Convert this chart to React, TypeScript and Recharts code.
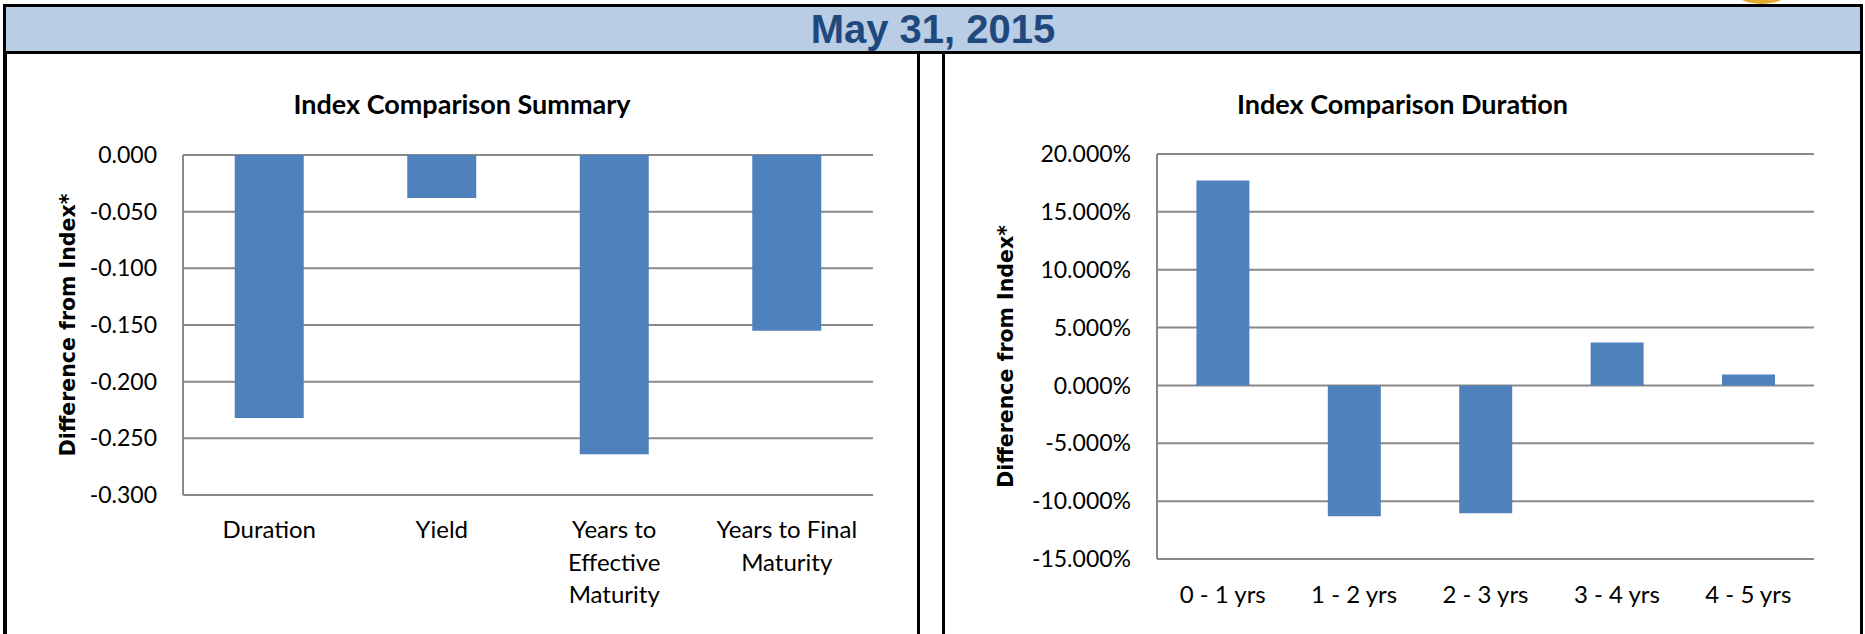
import { BarChart, Bar, XAxis, YAxis, CartesianGrid } from 'recharts';

const reportDate = 'May 31, 2015';
const axisTitle = 'Difference from Index*';

const summaryTitle = 'Index Comparison Summary';
const summaryCategories = ['Duration', 'Yield', 'Years to Effective Maturity', 'Years to Final Maturity'];
const summaryTickLines = [['Duration'], ['Yield'], ['Years to', 'Effective', 'Maturity'], ['Years to Final', 'Maturity']];
const summaryValues = [-0.232, -0.038, -0.264, -0.155];
const summaryTicks = [0, -0.05, -0.1, -0.15, -0.2, -0.25, -0.3];

const durationTitle = 'Index Comparison Duration';
const durationCategories = ['0 - 1 yrs', '1 - 2 yrs', '2 - 3 yrs', '3 - 4 yrs', '4 - 5 yrs'];
const durationValues = [17.7, -11.3, -11.05, 3.7, 0.95];
const durationTicks = [20, 15, 10, 5, 0, -5, -10, -15];

const summaryData = summaryCategories.map((name, i) => ({ name, value: summaryValues[i] }));
const durationData = durationCategories.map((name, i) => ({ name, value: durationValues[i] }));

const BAR = '#4f81bd';
const GRID = '#898989';
const TICK_FONT = 'Lato, "Open Sans", sans-serif';

function CategoryTick({ x, y, payload, categories, lines, offset }: any) {
  const idx = categories.indexOf(payload.value);
  const rows: string[] = idx >= 0 && lines ? lines[idx] : [payload.value];
  return (
    <text x={x} y={y + offset} textAnchor="middle" fontFamily={TICK_FONT} fontSize={24} fill="#000">
      {rows.map((r, i) => (
        <tspan key={i} x={x} dy={i === 0 ? 0 : 32.5}>
          {r}
        </tspan>
      ))}
    </text>
  );
}

const yLabelStyle = {
  textAnchor: 'middle' as const,
  fontFamily: '"DejaVu Sans", Verdana, sans-serif',
  fontWeight: 700,
  fontSize: 20.5,
  fill: '#000',
};

function PanelTitle({ left, width, text }: { left: number; width: number; text: string }) {
  return (
    <div
      style={{
        position: 'absolute',
        left,
        width,
        top: 90,
        height: 27,
        lineHeight: '27px',
        textAlign: 'center',
        fontFamily: TICK_FONT,
        fontWeight: 700,
        fontSize: 27,
        color: '#000',
      }}
    >
      {text}
    </div>
  );
}

function SummaryChart() {
  return (
    <div style={{ position: 'absolute', left: 7, top: 54 }}>
      <BarChart
        width={910}
        height={580}
        data={summaryData}
        margin={{ top: 101, right: 44, bottom: 19, left: 76 }}
        barCategoryGap="30%"
      >
        <CartesianGrid horizontal vertical={false} stroke={GRID} strokeWidth={2} />
        <XAxis
          dataKey="name"
          axisLine={false}
          tickLine={false}
          tickSize={0}
          tickMargin={0}
          height={120}
          interval={0}
          tick={(p: any) => (
            <CategoryTick {...p} categories={summaryCategories} lines={summaryTickLines} offset={43} />
          )}
        />
        <YAxis
          type="number"
          domain={[-0.3, 0]}
          ticks={summaryTicks}
          width={100}
          axisLine={{ stroke: GRID, strokeWidth: 2 }}
          tickLine={false}
          tickSize={0}
          tickMargin={26}
          interval={0}
          tickFormatter={(v: number) => v.toFixed(3)}
          tick={{ fontFamily: TICK_FONT, fontSize: 23, fill: '#000' }}
          label={{ value: axisTitle, angle: -90, position: 'insideLeft', offset: -15, style: yLabelStyle }}
        />
        <Bar dataKey="value" fill={BAR} isAnimationActive={false} />
      </BarChart>
    </div>
  );
}

function DurationChart() {
  return (
    <div style={{ position: 'absolute', left: 945, top: 54 }}>
      <BarChart
        width={915}
        height={580}
        data={durationData}
        margin={{ top: 100, right: 46, bottom: 15, left: 92 }}
        barCategoryGap="30%"
      >
        <CartesianGrid horizontal vertical={false} stroke={GRID} strokeWidth={2} />
        <XAxis
          dataKey="name"
          axisLine={false}
          tickLine={false}
          tickSize={0}
          tickMargin={0}
          height={60}
          interval={0}
          tick={(p: any) => <CategoryTick {...p} categories={durationCategories} lines={null} offset={44} />}
        />
        <YAxis
          type="number"
          domain={[-15, 20]}
          ticks={durationTicks}
          width={120}
          axisLine={{ stroke: GRID, strokeWidth: 2 }}
          tickLine={false}
          tickSize={0}
          tickMargin={26}
          interval={0}
          tickFormatter={(v: number) => `${v.toFixed(3)}%`}
          tick={{ fontFamily: TICK_FONT, fontSize: 23, fill: '#000' }}
          label={{ value: axisTitle, angle: -90, position: 'insideLeft', offset: -31, style: yLabelStyle }}
        />
        <Bar dataKey="value" fill={BAR} isAnimationActive={false} />
      </BarChart>
    </div>
  );
}

export default function App() {
  const line = { position: 'absolute' as const, background: '#000' };
  return (
    <div style={{ position: 'absolute', left: 0, top: 0, width: 1865, height: 634, background: '#fff', overflow: 'hidden' }}>
      {/* logo peeking above the header */}
      <div
        style={{
          position: 'absolute',
          left: 1733,
          top: -26,
          width: 57,
          height: 30,
          borderRadius: '50%',
          background: '#e4ac2c',
        }}
      />
      <div
        style={{
          position: 'absolute',
          left: 3,
          top: 4,
          width: 1860,
          height: 50,
          boxSizing: 'border-box',
          border: '3px solid #000',
          background: '#b9cde5',
        }}
      />
      <div
        style={{
          position: 'absolute',
          left: 3,
          width: 1860,
          top: 9,
          height: 40,
          lineHeight: '40px',
          textAlign: 'center',
          fontFamily: '"Liberation Sans", Arial, sans-serif',
          fontWeight: 700,
          fontSize: 40,
          color: '#1f497d',
        }}
      >
        {reportDate}
      </div>

      <div style={{ ...line, left: 3, top: 54, width: 4, height: 580 }} />
      <div style={{ ...line, left: 917, top: 54, width: 3, height: 580 }} />
      <div style={{ ...line, left: 942, top: 54, width: 3, height: 580 }} />
      <div style={{ ...line, left: 1860, top: 54, width: 3, height: 580 }} />

      <PanelTitle left={7} width={910} text={summaryTitle} />
      <PanelTitle left={945} width={915} text={durationTitle} />

      <SummaryChart />
      <DurationChart />
    </div>
  );
}
